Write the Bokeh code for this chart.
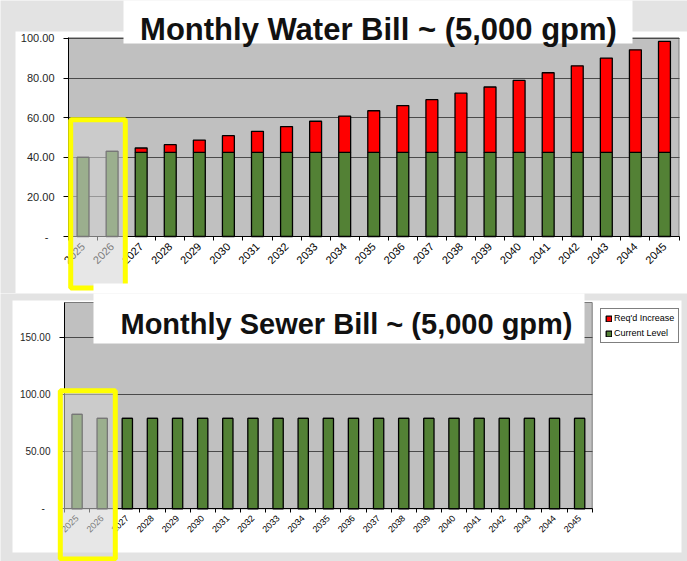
import math
from bokeh.plotting import figure
from bokeh.layouts import column
from bokeh.models import (Range1d, FixedTicker, BoxAnnotation, Label, Legend,
                          LegendItem, ColumnDataSource, Grid)
from bokeh.embed import file_html
from bokeh.resources import INLINE

# ---------------- data ----------------
years = ["2025", "2026", "2027", "2028", "2029", "2030", "2031", "2032", "2033",
         "2034", "2035", "2036", "2037", "2038", "2039", "2040", "2041", "2042",
         "2043", "2044", "2045"]

water_current = [40.0, 43.0, 42.5, 42.5, 42.5, 42.5, 42.5, 42.5, 42.5, 42.5, 42.5,
                 42.5, 42.5, 42.5, 42.5, 42.5, 42.5, 42.5, 42.5, 42.5, 42.5]
water_increase = [0.0, 0.0, 2.2, 3.9, 6.2, 8.4, 10.6, 13.0, 15.7, 18.3, 21.0,
                  23.6, 26.6, 29.9, 33.0, 36.3, 40.2, 43.7, 47.6, 51.8, 56.0]

sewer_current = [82.5, 79.0, 79.0, 79.0, 79.0, 79.0, 79.0, 79.0, 79.0, 79.0, 79.0,
                 79.0, 79.0, 79.0, 79.0, 79.0, 79.0, 79.0, 79.0, 79.0, 79.0]
sewer_increase = [0.0, 0.0, 0.0, 0.0, 0.0, 0.0, 0.0, 0.0, 0.0, 0.0, 0.0,
                  0.0, 0.0, 0.0, 0.0, 0.0, 0.0, 0.0, 0.0, 0.0, 0.0]

water_y_ticks = [0, 20, 40, 60, 80, 100]
water_y_labels = ["-\u00a0\u00a0", "20.00", "40.00", "60.00", "80.00", "100.00"]
sewer_y_ticks = [0, 50, 100, 150]
sewer_y_labels = ["-\u00a0\u00a0", "50.00", "100.00", "150.00"]

series_names = ["Req'd Increase", "Current Level"]
water_title = "Monthly Water Bill ~ (5,000 gpm)"
sewer_title = "Monthly Sewer Bill ~ (5,000 gpm)"

# ---------------- style ----------------
GREEN = "#538135"
RED = "#ff0000"
PLOT_BG = "#c0c0c0"
PAGE_BG = "#e3e3e3"
GRID = "#4a4a4a"
YELLOW = "#ffff00"
FONT = "Liberation Sans"
W = 687
H_TOP = 293
H_BOT = 268
HAS_CROSS = "cross_bounds" in Grid.properties()


def box(l, r, t, b, fill, alpha=1.0, line=None, lw=0, level="annotation"):
    """Rectangle in canvas pixels (frame == whole canvas here)."""
    return BoxAnnotation(left=l, right=r, top=t, bottom=b,
                         left_units="canvas", right_units="canvas",
                         top_units="canvas", bottom_units="canvas",
                         fill_color=fill, fill_alpha=alpha,
                         line_color=line, line_width=lw,
                         line_alpha=1.0 if line else 0.0, level=level)


def make_chart(current, increase, height, area, y_top, y_ticks, y_labels,
               y_font, x_font):
    """area = (left px, right px, top px, zero-line px) of the plot area."""
    n = len(years)
    left, right, top_px, zero_px = area
    cat = (right - left) / n                       # px per category
    ppu = (zero_px - top_px) / y_top               # px per unit
    xr = Range1d(-0.5 - left / cat, n - 0.5 + (W - right) / cat)
    yr = Range1d(-(height - zero_px) / ppu, zero_px / ppu)

    p = figure(width=W, height=height, output_backend="svg", toolbar_location=None,
               x_range=xr, y_range=yr, min_border=0)
    p.title.visible = False
    p.outline_line_color = None
    p.background_fill_color = PAGE_BG

    # plot area (silver) drawn beneath grid and bars
    p.add_layout(BoxAnnotation(left=-0.5, right=n - 0.5, bottom=0, top=y_top,
                               fill_color=PLOT_BG, fill_alpha=1.0,
                               line_color="#7a7a7a", line_width=1, line_alpha=1.0,
                               level="image"))

    p.xgrid.grid_line_color = None
    if HAS_CROSS:
        p.ygrid.ticker = FixedTicker(ticks=y_ticks[1:])
        p.ygrid.cross_bounds = (-0.5, n - 0.5)
        p.ygrid.grid_line_color = GRID
    else:
        p.ygrid.grid_line_color = None
        p.segment(x0=-0.5, x1=n - 0.5, y0=y_ticks[1:], y1=y_ticks[1:],
                  line_color=GRID, line_width=1)

    src = ColumnDataSource(dict(x=list(range(n)), current=current, increase=increase))
    rs = p.vbar_stack(["current", "increase"], x="x", width=0.41, source=src,
                      fill_color=[GREEN, RED], line_color="black", line_width=1.3)

    ya = p.yaxis[0]
    ya.fixed_location = -0.5
    ya.bounds = (0, y_top)
    ya.ticker = FixedTicker(ticks=y_ticks)
    ya.major_label_overrides = {t: l for t, l in zip(y_ticks, y_labels)}
    ya.major_label_text_font = FONT
    ya.major_label_text_font_size = y_font
    ya.major_label_text_color = "#1f1f1f"
    ya.major_tick_out = 5
    ya.major_tick_in = 0
    ya.minor_tick_out = 0
    ya.minor_tick_in = 0
    ya.major_label_standoff = 9
    ya.axis_line_color = "black"

    xa = p.xaxis[0]
    xa.fixed_location = 0
    xa.bounds = (-0.5, n - 0.5)
    xa.ticker = FixedTicker(ticks=list(range(n)),
                            minor_ticks=[i - 0.5 for i in range(n + 1)])
    xa.major_label_overrides = {i: y for i, y in enumerate(years)}
    xa.major_label_orientation = math.pi / 4
    xa.major_label_text_font = FONT
    xa.major_label_text_font_size = x_font
    xa.major_label_text_color = "black"
    xa.major_tick_out = 0
    xa.major_tick_in = 0
    xa.minor_tick_out = 4
    xa.minor_tick_in = 0
    xa.axis_line_color = "black"
    xa.major_label_standoff = 4
    return p, rs


# ---------------- top chart (water) ----------------
top_panel = box(15, W, 31, H_TOP, "white", level="image")
top, top_rs = make_chart(water_current, water_increase, H_TOP,
                         (68, 678.5, 37.4, 236), 100.3,
                         water_y_ticks, water_y_labels, "11px", "11px")
top.renderers.insert(0, top_panel)
top.add_layout(box(123, 632, -5, 43, "white"))
top.add_layout(Label(x=378, y=29, x_units="canvas", y_units="canvas",
                     text=water_title, text_align="center", text_baseline="alphabetic",
                     text_font=FONT, text_font_style="bold", text_font_size="31px",
                     text_color="#111111"))
top.add_layout(box(70.2, 124.8, 119.2, 287.5, "#d5d5d5", 0.56, YELLOW, 5))
top.add_layout(box(93, 584, 283, H_TOP + 5, "white"))

# ---------------- bottom chart (sewer) ----------------
bot_panel = box(12, 681, 7, 259, "white", level="image")
bot, bot_rs = make_chart(sewer_current, sewer_increase, H_BOT,
                         (64, 591.7, 9, 215.3), 180.3,
                         sewer_y_ticks, sewer_y_labels, "10px", "9px")
bot.renderers.insert(0, bot_panel)

legend = Legend(items=[LegendItem(label=series_names[0], renderers=[bot_rs[1]]),
                       LegendItem(label=series_names[1], renderers=[bot_rs[0]])],
                location=(600, H_BOT - 50), margin=0, padding=4, spacing=5,
                glyph_width=7, glyph_height=7, label_height=7, label_standoff=2,
                label_text_font=FONT, label_text_font_size="9px",
                label_text_color="black", border_line_color="black",
                border_line_width=1, background_fill_color="white",
                background_fill_alpha=1.0)
bot.add_layout(legend)

bot.add_layout(box(93, 584, -5, 50, "white"))
bot.add_layout(Label(x=346, y=30.5, x_units="canvas", y_units="canvas",
                     text=sewer_title, text_align="center", text_baseline="alphabetic",
                     text_font=FONT, text_font_style="bold", text_font_size="29px",
                     text_color="#111111"))
bot.add_layout(box(59.8, 114.8, 97.2, 265.5, "#d5d5d5", 0.56, YELLOW, 5))

layout = column(top, bot)
open("out.html", "w").write(file_html(layout, INLINE))
